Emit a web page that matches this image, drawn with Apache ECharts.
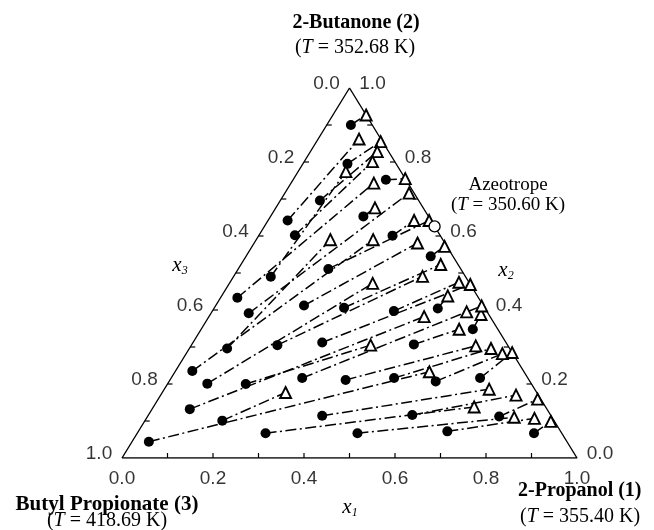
<!DOCTYPE html>
<html>
<head>
<meta charset="utf-8">
<script src="https://cdn.jsdelivr.net/npm/echarts@6/dist/echarts.min.js"></script>
<style>
html,body{margin:0;padding:0;background:#fff;}
#chart{width:654px;height:530px;}
</style>
</head>
<body>
<div id="chart"></div>
<script>
// ---- Data (ternary mole fractions: x1 = 2-propanol, x2 = 2-butanone) ----
// Liquid phase (filled circles)
const liqX1 = [0.053,0.098,0.204,0.087,0.204,0.043,0.079,0.294,0.406,0.198,0.082,0.037,0.194,0.285,0.083,0.399,0.492,0.597,0.083,0.189,0.284,0.488,0.037,0.087,0.172,0.288,0.386,0.490,0.586,0.679,0.083,0.170,0.383,0.580,0.773,0.282,0.037,0.484,0.679,0.872];
const liqX2 = [0.900,0.795,0.752,0.696,0.653,0.642,0.602,0.601,0.545,0.511,0.490,0.433,0.412,0.406,0.391,0.397,0.404,0.348,0.296,0.305,0.312,0.307,0.235,0.201,0.200,0.216,0.211,0.216,0.207,0.216,0.132,0.101,0.114,0.116,0.112,0.067,0.044,0.067,0.072,0.067];
// Vapour phase (open triangles), paired with the liquid points above
const vapX1 = [0.073,0.141,0.245,0.147,0.218,0.090,0.150,0.321,0.423,0.354,0.105,0.182,0.359,0.439,0.273,0.503,0.497,0.595,0.163,0.415,0.531,0.567,0.257,0.315,0.394,0.585,0.626,0.663,0.695,0.715,0.473,0.271,0.714,0.781,0.834,0.705,0.559,0.807,0.853,0.893];
const vapX2 = [0.927,0.855,0.755,0.828,0.676,0.862,0.801,0.642,0.572,0.642,0.774,0.743,0.581,0.523,0.716,0.475,0.438,0.388,0.590,0.491,0.469,0.348,0.590,0.472,0.305,0.411,0.303,0.296,0.282,0.285,0.382,0.177,0.186,0.170,0.159,0.138,0.233,0.110,0.107,0.099];
// Unpaired vapour point
const extraVapX1 = [0.560];
const extraVapX2 = [0.395];
// Azeotrope (binary 2-propanol / 2-butanone)
const azeoX1 = [0.374];
const azeoX2 = [0.626];
// Axis ticks and labels
const tickVals = [0.1,0.2,0.3,0.4,0.5,0.6,0.7,0.8,0.9];
const labelVals = [0.0,0.2,0.4,0.6,0.8,1.0];
const labelTexts = ['0.0','0.2','0.4','0.6','0.8','1.0'];

// ternary (x1,x2) -> cartesian
function tern(x1, x2) { return [x1 + x2 / 2, x2]; }

const frame = [tern(0,0), tern(1,0), tern(0,1), tern(0,0)];
const liqPts = liqX1.map((v,i) => tern(v, liqX2[i]));
const vapPts = vapX1.map((v,i) => tern(v, vapX2[i])).concat(extraVapX1.map((v,i)=>tern(v, extraVapX2[i])));
const tieLines = liqX1.map((v,i) => ({coords: [tern(v, liqX2[i]), tern(vapX1[i], vapX2[i])]}));
const azeoPts = azeoX1.map((v,i) => tern(v, azeoX2[i]));

// ticks: side 0 = bottom (x1), 1 = left (x3), 2 = right (x2)
const ticks = [];
tickVals.forEach(t => {
  ticks.push(tern(t, 0).concat([0]));
  ticks.push(tern(0, 1 - t).concat([1]));
  ticks.push(tern(1 - t, t).concat([2]));
});
const bottomLab = labelVals.map((t,i) => ({value: tern(t, 0), name: labelTexts[i]}));
const leftLab = labelVals.map((t,i) => ({value: tern(0, 1 - t), name: labelTexts[i]}));
const rightLab = labelVals.map((t,i) => ({value: tern(1 - t, t), name: labelTexts[i]}));

const sansFont = 'Liberation Sans, Arial, sans-serif';
const serif = 'Liberation Serif, Times New Roman, serif';
const tickLabel = (offset) => ({
  show: true, formatter: p => p.name, color: '#000', fontFamily: sansFont, fontSize: 19,
  position: 'inside', offset: offset
});
const tRich = (size) => ({a: {fontFamily: serif, fontSize: size, fill: '#000'}, i: {fontFamily: serif, fontSize: size, fontStyle: 'italic', fill: '#000'}});
const xRich = {x: {fontFamily: serif, fontSize: 21, fontStyle: 'italic', lineHeight: 24, fill: '#000'},
               s: {fontFamily: serif, fontSize: 12, fontStyle: 'italic', verticalAlign: 'bottom', lineHeight: 12, fill: '#000'}};

const chart = echarts.init(document.getElementById('chart'), null, {renderer: 'canvas'});
chart.setOption({
  animation: false,
  backgroundColor: '#fff',
  grid: {left: 122, top: 88, width: 455, height: 370},
  xAxis: {type: 'value', min: 0, max: 1, show: false},
  yAxis: {type: 'value', min: 0, max: 1, show: false},
  graphic: [
    {type: 'text', x: 356, y: 23, style: {text: '2-Butanone (2)', font: 'bold 20px ' + serif, fill: '#000', textAlign: 'center', textVerticalAlign: 'middle'}},
    {type: 'text', x: 355, y: 48, style: {text: '{a|(}{i|T}{a| = 352.68 K)}', textAlign: 'center', textVerticalAlign: 'middle', rich: tRich(20)}},
    {type: 'text', x: 107, y: 505, style: {text: 'Butyl Propionate (3)', font: 'bold 21px ' + serif, fill: '#000', textAlign: 'center', textVerticalAlign: 'middle'}},
    {type: 'text', x: 107, y: 521, style: {text: '{a|(}{i|T}{a| = 418.69 K)}', textAlign: 'center', textVerticalAlign: 'middle', rich: tRich(20)}},
    {type: 'text', x: 518, y: 491, style: {text: '2-Propanol (1)', font: 'bold 20px ' + serif, fill: '#000', textAlign: 'left', textVerticalAlign: 'middle'}},
    {type: 'text', x: 520, y: 517, style: {text: '{a|(}{i|T}{a| = 355.40 K)}', textAlign: 'left', textVerticalAlign: 'middle', rich: tRich(20)}},
    {type: 'text', x: 508, y: 185, style: {text: 'Azeotrope', font: '19px ' + serif, fill: '#000', textAlign: 'center', textVerticalAlign: 'middle'}},
    {type: 'text', x: 508, y: 205, style: {text: '{a|(}{i|T}{a| = 350.60 K)}', textAlign: 'center', textVerticalAlign: 'middle', rich: tRich(19)}},
    {type: 'text', x: 180, y: 265, style: {text: '{x|x}{s|3}', textAlign: 'center', textVerticalAlign: 'middle', rich: xRich}},
    {type: 'text', x: 506, y: 270, style: {text: '{x|x}{s|2}', textAlign: 'center', textVerticalAlign: 'middle', rich: xRich}},
    {type: 'text', x: 350, y: 507, style: {text: '{x|x}{s|1}', textAlign: 'center', textVerticalAlign: 'middle', rich: xRich}}
  ],
  series: [
    {type: 'line', data: frame, symbol: 'none', lineStyle: {color: '#000', width: 1.4}, z: 5, silent: true},
    {type: 'custom', data: ticks, z: 5, silent: true,
     renderItem: function (params, api) {
       const p = api.coord([api.value(0), api.value(1)]);
       const s = api.value(2);
       const d = s === 0 ? [0, -5] : (s === 1 ? [5, 0] : [-5, 0]);
       return {type: 'line', shape: {x1: p[0], y1: p[1], x2: p[0] + d[0], y2: p[1] + d[1]}, style: {stroke: '#000', lineWidth: 1.2}};
     }},
    {type: 'lines', coordinateSystem: 'cartesian2d', data: tieLines, z: 3, silent: true,
     lineStyle: {color: '#000', width: 1.5, opacity: 1, type: [11, 3.5, 2, 3.5]}},
    {type: 'scatter', data: liqPts, symbol: 'circle', symbolSize: 10, z: 6,
     itemStyle: {color: '#000', opacity: 1}},
    {type: 'scatter', data: vapPts, symbol: 'triangle', symbolSize: 11, z: 6,
     itemStyle: {color: '#fff', borderColor: '#000', borderWidth: 1.9, opacity: 1}},
    {type: 'scatter', data: azeoPts, symbol: 'circle', symbolSize: 11, z: 7,
     itemStyle: {color: '#fff', borderColor: '#000', borderWidth: 1.3, opacity: 1}},
    {type: 'scatter', data: bottomLab, symbolSize: 0, z: 8, silent: true, label: tickLabel([0, 21])},
    {type: 'scatter', data: leftLab, symbolSize: 0, z: 8, silent: true, label: tickLabel([-23, -4])},
    {type: 'scatter', data: rightLab, symbolSize: 0, z: 8, silent: true, label: tickLabel([23, -4])}
  ]
});
</script>
</body>
</html>
